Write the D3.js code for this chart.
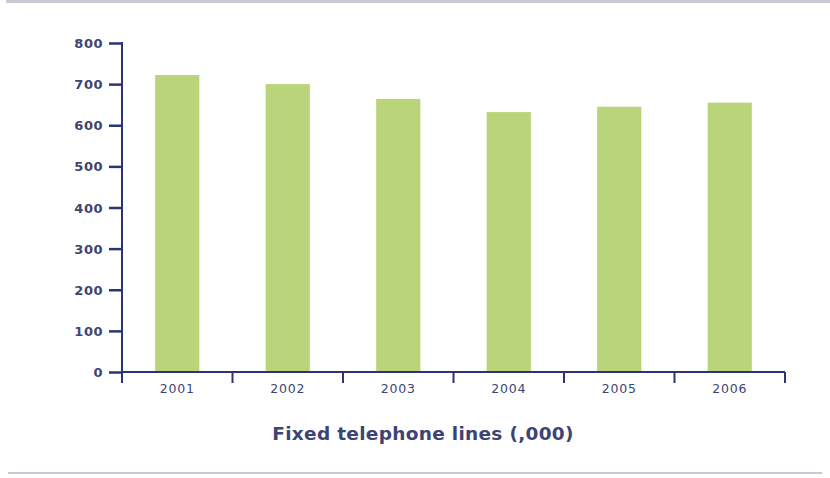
<!DOCTYPE html>
<html><head><meta charset="utf-8">
<script src="https://cdn.jsdelivr.net/npm/d3@7"></script>
<style>body{margin:0;background:#fff}svg{display:block}</style>
</head><body>
<script>
const categories = ["2001","2002","2003","2004","2005","2006"];
const values = [722, 700, 664, 632, 645, 655];
const yTicks = [0,100,200,300,400,500,600,700,800];
const title = "Fixed telephone lines (,000)";

const W = 830, H = 478;
const svg = d3.select("body").append("svg").attr("width", W).attr("height", H);
const axisColor = "#2b3576", textColor = "#3d4474";

svg.append("rect").attr("x",6).attr("y",0).attr("width",824).attr("height",3).attr("fill","#c9c9d6");
svg.append("rect").attr("x",8).attr("y",472).attr("width",814).attr("height",2).attr("fill","#c9c9d6");

const x = d3.scaleBand().domain(categories).range([122,785]).paddingInner(0.6).paddingOuter(0.3);
const y = d3.scaleLinear().domain([0,800]).range([372,43]);

svg.selectAll("rect.bar").data(values).join("rect").attr("class","bar")
  .attr("x",(d,i)=>x(categories[i])).attr("width",x.bandwidth())
  .attr("y",d=>y(d)).attr("height",d=>y(0)-y(d)).attr("fill","#bad47a");

// y axis
const ya = svg.append("g").attr("transform","translate(122,0)")
  .call(d3.axisLeft(y).tickValues(yTicks).tickSize(13).tickPadding(6).tickSizeOuter(0));
ya.select(".domain").remove();
ya.append("line").attr("x1",0).attr("x2",0).attr("y1",y(800)-1).attr("y2",383).attr("stroke",axisColor).attr("stroke-width",2);
ya.selectAll(".tick line").attr("stroke",axisColor).attr("stroke-width",2.5);
ya.selectAll(".tick text").attr("fill",textColor).style("font-family","DejaVu Sans, sans-serif").style("font-size","13px").style("font-weight","bold").style("letter-spacing","0.5px").attr("dy","0.35em");

// x axis
const bounds = d3.range(categories.length+1).map(i => 122 + i*(663/categories.length));
const xa = svg.append("g");
xa.append("line").attr("x1",122).attr("x2",785).attr("y1",y(0)).attr("y2",y(0)).attr("stroke",axisColor).attr("stroke-width",2);
xa.selectAll("line.t").data(bounds).join("line").attr("class","t")
  .attr("x1",d=>d).attr("x2",d=>d).attr("y1",y(0)).attr("y2",383).attr("stroke",axisColor).attr("stroke-width",2);
xa.selectAll("text").data(categories).join("text")
  .attr("x",d=>x(d)+x.bandwidth()/2).attr("y",393).attr("text-anchor","middle")
  .attr("fill",textColor).style("font-family","DejaVu Sans, sans-serif").style("font-size","12.5px").style("letter-spacing","0.8px")
  .text(d=>d);

svg.append("text").attr("x",423).attr("y",440).attr("text-anchor","middle")
  .attr("fill",textColor).style("font-family","DejaVu Sans, sans-serif").style("font-size","18.5px").style("font-weight","bold").style("letter-spacing","0.3px")
  .text(title);
</script>
</body></html>
